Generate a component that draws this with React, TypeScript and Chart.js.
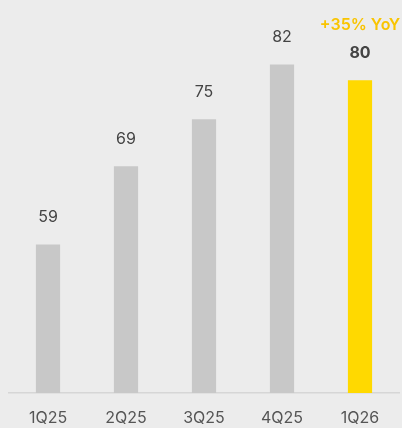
import React, { useEffect, useRef } from "react";
import { Chart, registerables } from "chart.js";

Chart.register(...registerables);

const categories = ["1Q25", "2Q25", "3Q25", "4Q25", "1Q26"];
const values = [59, 69, 75, 82, 80];
const growthLabel = "+35% YoY";
const FONT = "Inter, 'Open Sans', sans-serif";

export default function App() {
  const ref = useRef<HTMLCanvasElement>(null);
  useEffect(() => {
    document.body.style.margin = "0";
    const labelsPlugin = {
      id: "valueLabels",
      afterDatasetsDraw(chart: any) {
        const ctx = chart.ctx;
        const meta = chart.getDatasetMeta(0);
        ctx.save();
        ctx.textAlign = "center";
        ctx.textBaseline = "middle";
        meta.data.forEach((bar: any, i: number) => {
          const last = i === values.length - 1;
          ctx.font = `${last ? "700" : "400"} 16px ${FONT}`;
          ctx.fillStyle = "#444444";
          ctx.fillText(String(values[i]), bar.x, bar.y - 27);
          if (last) {
            ctx.font = `600 16px ${FONT}`;
            ctx.fillStyle = "#F9C400";
            ctx.fillText(growthLabel, bar.x, bar.y - 55);
          }
        });
        ctx.restore();
      },
    };
    const chart = new Chart(ref.current!, {
      type: "bar",
      data: {
        labels: categories,
        datasets: [
          {
            data: values,
            backgroundColor: values.map((_, i) => (i === values.length - 1 ? "#FFD900" : "#C8C8C8")),
            barPercentage: 0.31,
            categoryPercentage: 1,
          },
        ],
      },
      options: {
        animation: false,
        responsive: false,
        maintainAspectRatio: false,
        layout: { padding: { left: 9, right: 3, top: 2, bottom: 0 } },
        plugins: { legend: { display: false }, tooltip: { enabled: false } },
        scales: {
          y: { display: false, min: 40, max: 90 },
          x: {
            grid: { display: false, drawTicks: false },
            border: { display: true, color: "#D6D6D6", width: 1.5 },
            ticks: { color: "#555555", font: { family: FONT, size: 16 }, padding: 16 },
            afterFit: (s: any) => {
              s.height = 35;
            },
          },
        },
      },
      plugins: [labelsPlugin],
    });
    return () => chart.destroy();
  }, []);
  return (
    <div style={{ width: 402, height: 428, background: "#ECECEC" }}>
      <canvas ref={ref} width={402} height={428} style={{ display: "block" }} />
    </div>
  );
}
